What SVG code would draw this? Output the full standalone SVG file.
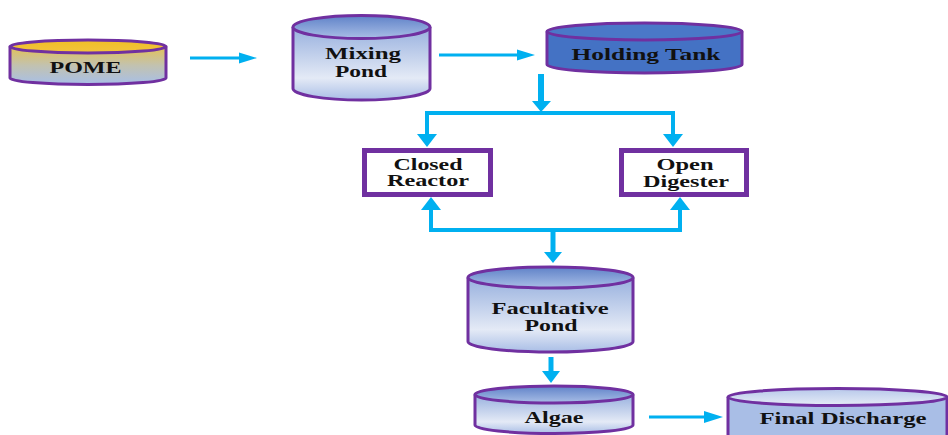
<svg xmlns="http://www.w3.org/2000/svg" width="948" height="435" viewBox="0 0 948 435">
<defs>
<linearGradient id="pomeBody" x1="0" y1="0" x2="0" y2="1">
<stop offset="0" stop-color="#E3C155"/><stop offset="0.5" stop-color="#C2C2B0"/><stop offset="1" stop-color="#A7BFE8"/>
</linearGradient>
<linearGradient id="pomeTop" x1="0" y1="0" x2="0" y2="1">
<stop offset="0" stop-color="#F0BE28"/><stop offset="1" stop-color="#F2C43C"/>
</linearGradient>
<linearGradient id="blueBody" x1="0" y1="0" x2="0" y2="1">
<stop offset="0" stop-color="#97B0DE"/><stop offset="0.7" stop-color="#E4EAF6"/><stop offset="1" stop-color="#A9BEE6"/>
</linearGradient>
<linearGradient id="blueTop" x1="0" y1="0" x2="0" y2="1">
<stop offset="0" stop-color="#5F82C8"/><stop offset="1" stop-color="#A9BEE6"/>
</linearGradient>
<linearGradient id="finalTop" x1="0" y1="0" x2="0" y2="1">
<stop offset="0" stop-color="#B7C8EA"/><stop offset="1" stop-color="#E6ECF7"/>
</linearGradient>
</defs>
<style>
.cyl{stroke:#7030A0;stroke-width:3}
.box{fill:#FFFFFF;stroke:#7030A0;stroke-width:5}
.t{font-family:"Liberation Serif","Times New Roman",serif;font-weight:bold;font-size:16px;fill:#111111;text-anchor:middle}
.ln{stroke:#00B0F0;fill:none}
.hd{fill:#00B0F0}
</style>

<g id="pome">
<path class="cyl" fill="url(#pomeBody)" d="M10,46.5 V78 A78,6.5 0 0 0 166,78 V46.5"/>
<ellipse class="cyl" fill="url(#pomeTop)" cx="88" cy="46.5" rx="78" ry="6.5"/>
<text class="t" x="85.5" y="73" textLength="72" lengthAdjust="spacingAndGlyphs">POME</text>
</g>

<g id="mixing-pond">
<path class="cyl" fill="url(#blueBody)" d="M293,27 V88.5 A68.5,11.5 0 0 0 430,88.5 V27"/>
<ellipse class="cyl" fill="url(#blueTop)" cx="361.5" cy="27" rx="68.5" ry="11.5"/>
<text class="t" x="363" y="59" textLength="76" lengthAdjust="spacingAndGlyphs">Mixing</text>
<text class="t" x="361" y="77" textLength="52" lengthAdjust="spacingAndGlyphs">Pond</text>
</g>

<g id="holding-tank">
<path class="cyl" fill="#4472C4" d="M547,31.5 V64.5 A97.5,8.5 0 0 0 742,64.5 V31.5"/>
<ellipse class="cyl" fill="#4A78C8" cx="644.5" cy="31.5" rx="97.5" ry="8.5"/>
<text class="t" x="646" y="60" textLength="149" lengthAdjust="spacingAndGlyphs">Holding Tank</text>
</g>

<g id="closed-reactor">
<rect class="box" x="364.5" y="150.5" width="126" height="44"/>
<text class="t" x="428" y="170" textLength="69" lengthAdjust="spacingAndGlyphs">Closed</text>
<text class="t" x="428" y="186" textLength="82" lengthAdjust="spacingAndGlyphs">Reactor</text>
</g>

<g id="open-digester">
<rect class="box" x="621.5" y="150.5" width="125" height="44"/>
<text class="t" x="685" y="170" textLength="57" lengthAdjust="spacingAndGlyphs">Open</text>
<text class="t" x="686" y="187" textLength="86" lengthAdjust="spacingAndGlyphs">Digester</text>
</g>

<g id="facultative-pond">
<path class="cyl" fill="url(#blueBody)" d="M468,277.5 V341.5 A82.5,10.5 0 0 0 633,341.5 V277.5"/>
<ellipse class="cyl" fill="url(#blueTop)" cx="550.5" cy="277.5" rx="82.5" ry="10.5"/>
<text class="t" x="550" y="314" textLength="117" lengthAdjust="spacingAndGlyphs">Facultative</text>
<text class="t" x="551" y="331" textLength="53" lengthAdjust="spacingAndGlyphs">Pond</text>
</g>

<g id="algae">
<path class="cyl" fill="url(#blueBody)" d="M475,394.5 V425 A79,8.5 0 0 0 633,425 V394.5"/>
<ellipse class="cyl" fill="url(#blueTop)" cx="554" cy="394.5" rx="79" ry="8.5"/>
<text class="t" x="554" y="423" textLength="59" lengthAdjust="spacingAndGlyphs">Algae</text>
</g>

<g id="final-discharge">
<path class="cyl" fill="#A9BEE6" d="M728,397 V445 H947 V397"/>
<ellipse class="cyl" fill="url(#finalTop)" cx="837.5" cy="397" rx="109.5" ry="8.5"/>
<text class="t" x="843" y="424" textLength="167" lengthAdjust="spacingAndGlyphs">Final Discharge</text>
</g>

<g id="connectors">
<line class="ln" stroke-width="3" x1="190" y1="58" x2="241" y2="58"/>
<polygon class="hd" points="239,52.5 257,58 239,63.5"/>
<line class="ln" stroke-width="3" x1="439" y1="55" x2="519" y2="55"/>
<polygon class="hd" points="517,49.5 535,55 517,60.5"/>
<line class="ln" stroke-width="6" x1="541" y1="74" x2="541" y2="103"/>
<polygon class="hd" points="532,101 541,112 551,101"/>
<path class="ln" stroke-width="4" d="M427,136 V113 H673 V136"/>
<polygon class="hd" points="417,134 427,147 437,134"/>
<polygon class="hd" points="663,134 673,147 683,134"/>
<path class="ln" stroke-width="4" d="M431,208 V230 H680 V208"/>
<polygon class="hd" points="421,210 431,197 441,210"/>
<polygon class="hd" points="670,210 680,197 690,210"/>
<line class="ln" stroke-width="5" x1="553" y1="230" x2="553" y2="254"/>
<polygon class="hd" points="544,252 553,263 562,252"/>
<line class="ln" stroke-width="5" x1="551" y1="357" x2="551" y2="373"/>
<polygon class="hd" points="542,371 551,383 560,371"/>
<line class="ln" stroke-width="3" x1="649" y1="417" x2="706" y2="417"/>
<polygon class="hd" points="704,411 723,417 704,423"/>
</g>
</svg>
